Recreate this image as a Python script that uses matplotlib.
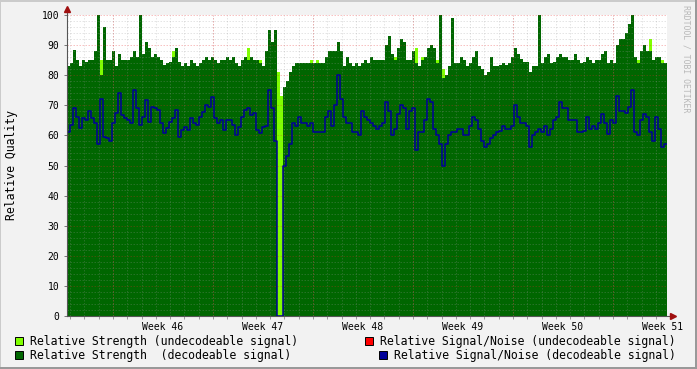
import numpy as np
import matplotlib
matplotlib.use('Agg')
import matplotlib.pyplot as plt
from matplotlib.patches import Rectangle

# ---------------- data (one sample per ~5 h, 200 samples over 6 weeks) ----------------
strength_decodeable = [
    83, 84, 88.5, 85, 83, 85, 84.5, 85, 85, 88, 100, 80, 96, 85, 85, 88, 83, 87, 85, 85, 85, 86, 88, 86, 100, 87, 91, 89, 86, 87, 86, 85, 83.5,
    84, 84.5, 86, 89, 84.5, 83, 84, 83, 85, 84, 83, 84, 85, 86, 85, 86, 85, 84, 85, 85, 86, 85, 86, 84, 83, 85, 86, 85, 86, 85, 85, 84, 83,
    88, 95, 91, 95, 0, 0, 76, 78, 81, 83, 84, 84, 84, 84, 84, 84, 84, 84, 84, 84, 86, 88, 88, 88, 91, 88, 83, 86, 84, 83, 84, 83, 84,
    85, 84, 86, 85, 85, 85, 85, 90, 93, 87, 85, 89, 92, 91, 85, 85, 88, 84, 83, 85, 86, 89, 90, 89, 84, 100, 79, 80, 83, 99, 84, 84, 86, 85,
    83, 84, 86, 88, 83, 82, 80, 81, 86, 83, 83, 83.5, 84, 83.5, 84, 86, 89, 87, 85.5, 84.5, 84.5, 81, 83, 83, 100, 84, 86, 87, 84, 84.5, 86, 87, 86,
    86, 85, 85, 87, 85, 84, 84.5, 86, 85, 84, 85, 85, 87, 88, 84, 85, 84, 90, 92, 92, 94, 97, 100, 86, 84, 88, 90, 88, 88, 85, 86, 86, 84, 84,
]
snr_decodeable = [
    61, 63.5, 69, 66, 62.4, 65.7, 65, 68, 65.7, 64, 57, 72, 59.6, 59, 58, 64, 67.3, 74, 66.8, 65.7, 65, 64, 75, 69, 63.5, 66, 71.8, 64.6, 69.5, 69, 68.4, 64, 60.7,
    62.4, 64.6, 65.7, 68.4, 59.6, 61.8, 62.9, 61.8, 65.7, 64, 63.5, 66.2, 67.9, 70, 69.5, 72.9, 65.7, 64, 65, 61.8, 65, 65, 63.5, 60, 62.9, 66.2, 68.4, 69, 66.8, 67.3, 61.8, 60.7, 62.9,
    63, 75, 69, 58, 0, 0, 50, 53, 57, 64, 63, 66, 64, 64, 63, 64, 61, 61, 61, 61, 66, 68, 63, 70, 80, 72, 66, 64, 64, 61, 61, 60, 68,
    66, 65, 64, 63, 62, 63, 64, 71, 68, 60, 62, 67, 70, 69, 62, 68, 69, 55, 61, 61, 65, 72, 71, 62, 60, 57, 50, 57, 60, 61, 61, 62, 62, 60,
    60, 63, 66, 65, 62, 58, 56, 57, 59, 60, 61, 61.5, 63, 62, 62, 63, 70, 66, 64, 64, 63, 56, 60, 61, 62, 61, 63, 60, 62, 65, 66, 71, 69,
    69, 65, 65, 65, 61, 61, 61.5, 66, 62, 63, 62, 64, 67, 64, 60.5, 65, 64, 73, 68, 68, 67.5, 69.5, 75, 61, 60, 65, 67, 66, 61, 58, 66, 62, 56, 57,
]
# undecodeable strength: only samples where it shows above the decodeable area
undecodeable_sample = [11, 35, 41, 60, 64, 70, 71, 81, 83, 109, 116, 118, 123, 125, 190, 194, 198]
undecodeable_value = [85, 88, 85, 89, 85, 81, 73, 85, 85, 86, 89, 86, 85, 82, 85, 92, 85]

week_labels = ['Week 46', 'Week 47', 'Week 48', 'Week 49', 'Week 50', 'Week 51']
y_ticks = [0, 10, 20, 30, 40, 50, 60, 70, 80, 90, 100]
legend_labels = ['Relative Strength (undecodeable signal)',
                 'Relative Strength  (decodeable signal)',
                 'Relative Signal/Noise (undecodeable signal)',
                 'Relative Signal/Noise (decodeable signal)']

# ---------------- style ----------------
plt.rcParams['font.family'] = ['DejaVu Sans Mono']
C_LIGHT = '#80FF00'
C_DARK = '#006600'
C_BLUE = '#000099'
C_RED = '#FF0000'

W, H = 697, 369
fig = plt.figure(figsize=(W / 100, H / 100), dpi=100, facecolor='#F2F2F2')

# 3D-ish frame
fig.add_artist(Rectangle((0, 1 - 2 / H), 1, 2 / H, transform=fig.transFigure, color='#CBCBCB', lw=0))
fig.add_artist(Rectangle((0, 0), 1 / W, 1, transform=fig.transFigure, color='#CBCBCB', lw=0))
fig.add_artist(Rectangle((0, 0), 1, 2 / H, transform=fig.transFigure, color='#999999', lw=0))
fig.add_artist(Rectangle((1 - 2 / W, 0), 2 / W, 1, transform=fig.transFigure, color='#999999', lw=0))

ax = fig.add_axes([67 / W, 53 / H, 600 / W, 301 / H])
ax.set_facecolor('white')

n = len(strength_decodeable)
span_days = 42.0
step = span_days / n
t = np.arange(n + 1) * step

undec = np.zeros(n)
undec[undecodeable_sample] = undecodeable_value


def ext(a):
    a = np.asarray(a, dtype=float)
    return np.append(a, a[-1])


ax.fill_between(t, 0, ext(undec), step='post', color=C_LIGHT, lw=0, zorder=1)
ax.fill_between(t, 0, ext(strength_decodeable), step='post', color=C_DARK, lw=0, zorder=2)

# grid (drawn over the areas)
GRID_MINOR = (0.6, 0.6, 0.6, 0.25)
GRID_MAJOR = (0.9, 0.15, 0.15, 0.28)
DOTS = (0, (1.5, 1.5))
first_major = 3.22
days = np.arange(first_major - 3, span_days, 1.0)
majors = np.arange(first_major, span_days, 7.0)
for d in days:
    ax.axvline(d, color=GRID_MINOR, lw=0.72, ls=DOTS, zorder=3)
for m in majors:
    ax.axvline(m, color=GRID_MAJOR, lw=0.72, ls=DOTS, zorder=3)
for v in np.arange(2, 101, 2):
    c = GRID_MAJOR if v % 10 == 0 else GRID_MINOR
    ax.axhline(v, color=c, lw=0.72, ls=DOTS, zorder=3)

ax.step(t, ext(snr_decodeable), where='post', color=C_BLUE, lw=1.1, zorder=4)

ax.set_xlim(0, span_days)
ax.set_ylim(0, 100)
for s in ax.spines.values():
    s.set_visible(False)

# axes lines with arrows
ax.plot([0, 0], [0, 1.02], transform=ax.transAxes, color='#555555', lw=0.8, clip_on=False, zorder=5)
ax.plot([0, 1.01], [0, 0], transform=ax.transAxes, color='#555555', lw=0.8, clip_on=False, zorder=5)
ax.plot([0], [1.02], transform=ax.transAxes, marker='^', ms=4.5, color='#A01010', clip_on=False, zorder=6)
ax.plot([1.01], [0], transform=ax.transAxes, marker='>', ms=4.5, color='#A01010', clip_on=False, zorder=6)

ax.set_yticks(y_ticks)
ax.set_yticklabels([str(v) for v in y_ticks])
ax.tick_params(axis='y', length=2.5, width=0.7, color='#777777', pad=3, labelsize=7)
label_pos = majors + 3.5
ax.set_xticks(label_pos)
ax.set_xticklabels(week_labels)
ax.set_xticks(days, minor=True)
ax.tick_params(axis='x', which='major', length=0, pad=4, labelsize=7)
ax.tick_params(axis='x', which='minor', length=2, width=0.7, color='#999999')

fig.text(12 / W, 1 - 165 / H, 'Relative Quality', rotation=90, ha='center', va='center', fontsize=8.3)
fig.text(686 / W, 1 - 59 / H, 'RRDTOOL / TOBI OETIKER', rotation=270, ha='center', va='center',
         fontsize=5.9, color='#B8B8B8')

# legend
legend_items = [
    (15, 341, C_LIGHT, 30, legend_labels[0]),
    (15, 355, C_DARK, 30, legend_labels[1]),
    (365, 341, C_RED, 380, legend_labels[2]),
    (379, 355, C_BLUE, 394, legend_labels[3]),
]
for sx, cy, col, tx, lab in legend_items:
    fig.add_artist(Rectangle((sx / W, 1 - (cy + 4) / H), 8 / W, 8 / H, transform=fig.transFigure,
                             facecolor=col, edgecolor='black', lw=0.7))
    fig.text(tx / W, 1 - cy / H, lab, ha='left', va='center', fontsize=8.3)

fig.savefig('out.png', dpi=100, facecolor=fig.get_facecolor())
